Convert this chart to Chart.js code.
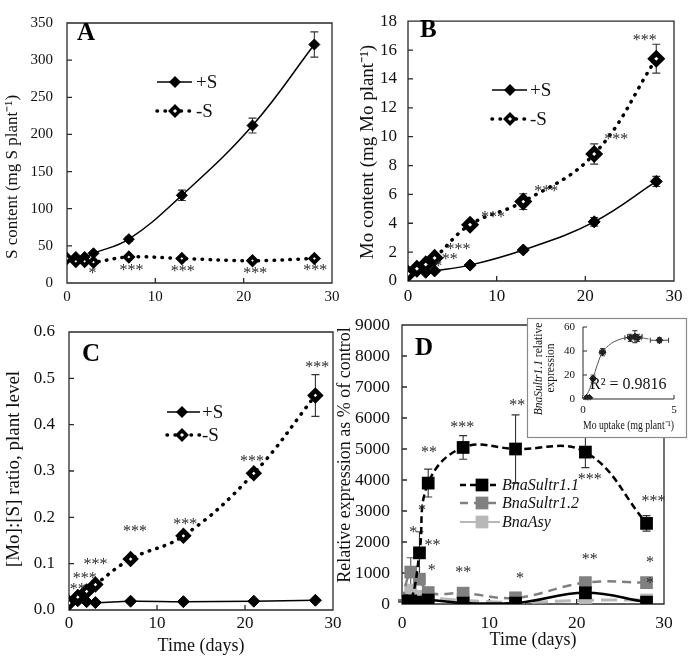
<!DOCTYPE html>
<html>
<head>
<meta charset="utf-8">
<script src="https://cdn.jsdelivr.net/npm/chart.js@4.4.0/dist/chart.umd.min.js"></script>
<style>
  body { margin: 0; background: #fff; }
  #wrap { position: relative; width: 690px; height: 662px; background: #fff; }
  #wrap canvas { position: absolute; left: 0; top: 0; }
</style>
</head>
<body>
<div id="wrap">
  <canvas id="cA" width="690" height="662"></canvas>
  <canvas id="cB" width="690" height="662"></canvas>
  <canvas id="cC" width="690" height="662"></canvas>
  <canvas id="cD" width="690" height="662"></canvas>
  <canvas id="cIn" width="690" height="662"></canvas>
</div>
<script>
const F = '"Liberation Serif", "Times New Roman", serif';

// sampling days
const days = [0, 1, 2, 3, 7, 13, 21, 28];

// A - S content (mg S plant-1)
const sPlus = [33, 35, 35, 40, 59, 118, 212, 321];
const sPlusErr = [0, 0, 0, 0, 3, 7, 10, 17];
const sMinus = [33, 29, 29, 28, 35, 33, 30, 33];
const sMinusErr = [0, 0, 0, 0, 2, 2, 2, 2];
const starsA = [[2.9, 17, '*'], [7.3, 21, '***'], [13.1, 20, '***'], [21.3, 17, '***'], [28.1, 21, '***']];

// B - Mo content (mg Mo plant-1)
const moPlus = [0.5, 0.75, 0.6, 0.7, 1.1, 2.15, 4.1, 6.9];
const moPlusErr = [0, 0, 0, 0, 0.1, 0.15, 0.3, 0.35];
const moMinus = [0.5, 0.85, 1.15, 1.6, 3.9, 5.5, 8.8, 15.4];
const moMinusErr = [0, 0.1, 0.1, 0.15, 0.2, 0.55, 0.7, 1.0];
const starsB = [[3.4, 1.2, '*'], [4.7, 1.7, '**'], [5.7, 2.4, '***'], [9.6, 4.6, '***'], [15.6, 6.4, '***'], [23.5, 10.0, '***'], [26.7, 16.9, '***']];

// C - [Mo]:[S] ratio
const ratioPlus = [0.015, 0.02, 0.018, 0.016, 0.019, 0.018, 0.019, 0.021];
const ratioMinus = [0.015, 0.028, 0.04, 0.055, 0.11, 0.16, 0.295, 0.463];
const ratioMinusErr = [0, 0.002, 0.003, 0.004, 0.005, 0.006, 0.007, 0.045];
const starsC = [[1.0, 0.05, '**'], [1.8, 0.075, '***'], [3.0, 0.104, '***'], [7.5, 0.177, '***'], [13.2, 0.19, '***'], [20.8, 0.328, '***'], [28.2, 0.53, '***']];

// D - relative expression as % of control
const sultr11 = [100, 100, 1650, 3900, 5050, 5000, 4900, 2600];
const sultr11Err = [30, 30, 680, 450, 380, 1100, 500, 250];
const sultr12 = [100, 1030, 800, 370, 350, 200, 690, 690];
const sultr12Err = [30, 460, 100, 60, 60, 40, 120, 150];
const asy = [100, 450, 250, 200, 120, 50, 120, 130];
const ctrl = [70, 30, 60, 130, 30, 30, 360, 60];
const starsD = [[1.3, 2390, '*'], [2.3, 3100, '*'], [3.5, 1970, '**'], [3.4, 1190, '*'], [3.1, 4970, '**'],
  [6.9, 5800, '***'], [7.0, 1100, '**'], [13.2, 6500, '**'], [13.5, 935, '*'], [21.5, 4100, '***'],
  [21.5, 1520, '**'], [28.8, 3420, '***'], [28.4, 1450, '*'], [28.4, 770, '*']];

// inset - BnaSultr1.1 vs Mo uptake
const upX = [0, 0.2, 0.35, 0.55, 1.07, 2.6, 2.85, 3.0, 4.2];
const upY = [0, 1, 1, 17, 39, 51, 52, 51, 49];
const upXErr = [0, 0.05, 0.05, 0.1, 0.15, 0.3, 0.4, 0.2, 0.5];
const upYErr = [0, 1, 1, 3, 3, 3, 5, 3, 2];
const fitX = [0, 0.3, 0.55, 0.8, 1.07, 1.4, 1.75, 2.2, 2.6, 3.0, 3.6];
const fitY = [0, 6, 17, 29, 39, 44.5, 48, 50.5, 51.5, 51.5, 50];

const pts = (xs, ys) => xs.map((x, i) => ({ x: x, y: ys[i] }));

// marker drawing used by the legends
function marker(ctx, kind, x, y, r, fill, stroke, bw) {
  ctx.beginPath();
  if (kind === 'square') {
    const s = r * Math.SQRT1_2;
    ctx.rect(x - s, y - s, 2 * s, 2 * s);
  } else {
    ctx.moveTo(x, y - r); ctx.lineTo(x + r, y); ctx.lineTo(x, y + r); ctx.lineTo(x - r, y); ctx.closePath();
  }
  ctx.fillStyle = fill; ctx.fill();
  if (bw) { ctx.lineWidth = bw; ctx.strokeStyle = stroke; ctx.setLineDash([]); ctx.stroke(); }
}

// plot frame with inside tick marks
const frame = {
  id: 'frame',
  beforeDatasetsDraw(chart, args, o) {
    const { ctx, chartArea: a } = chart;
    const xs = chart.scales.x, ys = chart.scales.y;
    ctx.save();
    ctx.strokeStyle = o.color || '#2a2a2a';
    ctx.lineWidth = o.width || 1.3;
    ctx.beginPath();
    if (o.box === false) {
      ctx.moveTo(a.left, a.top); ctx.lineTo(a.left, a.bottom); ctx.lineTo(a.right, a.bottom);
    } else {
      ctx.rect(a.left, a.top, a.right - a.left, a.bottom - a.top);
    }
    const t = o.tick || 5;
    ys.ticks.forEach(k => {
      const y = ys.getPixelForValue(k.value);
      ctx.moveTo(a.left, y); ctx.lineTo(a.left + t, y);
    });
    xs.ticks.forEach(k => {
      const x = xs.getPixelForValue(k.value);
      ctx.moveTo(x, a.bottom); ctx.lineTo(x, a.bottom - t);
    });
    ctx.stroke();
    ctx.restore();
  }
};

// error bars (vertical, and horizontal when xErrors given)
const errorBars = {
  id: 'errorBars',
  beforeDatasetsDraw(chart) {
    const { ctx } = chart;
    const xs = chart.scales.x, ys = chart.scales.y;
    chart.data.datasets.forEach(ds => {
      if (!ds.errors && !ds.xErrors) return;
      ctx.save();
      ctx.strokeStyle = ds.errColor || '#333';
      ctx.lineWidth = 1.1;
      const cap = ds.errCap || 4;
      ds.data.forEach((p, j) => {
        const x = xs.getPixelForValue(p.x), y = ys.getPixelForValue(p.y);
        ctx.beginPath();
        const e = ds.errors ? ds.errors[j] : 0;
        if (e) {
          const y1 = ys.getPixelForValue(p.y + e), y2 = ys.getPixelForValue(p.y - e);
          ctx.moveTo(x, y1); ctx.lineTo(x, y2);
          ctx.moveTo(x - cap, y1); ctx.lineTo(x + cap, y1);
          ctx.moveTo(x - cap, y2); ctx.lineTo(x + cap, y2);
        }
        const ex = ds.xErrors ? ds.xErrors[j] : 0;
        if (ex) {
          const x1 = xs.getPixelForValue(p.x - ex), x2 = xs.getPixelForValue(p.x + ex);
          ctx.moveTo(x1, y); ctx.lineTo(x2, y);
          ctx.moveTo(x1, y - cap); ctx.lineTo(x1, y + cap);
          ctx.moveTo(x2, y - cap); ctx.lineTo(x2, y + cap);
        }
        ctx.stroke();
      });
      ctx.restore();
    });
  }
};

// panel letter, significance stars, in-plot legend, extra texts
const notes = {
  id: 'notes',
  beforeDraw(chart, args, o) {
    if (!o.panel) return;
    const ctx = chart.ctx, p = o.panel;
    ctx.save();
    ctx.fillStyle = '#fff';
    ctx.fillRect(p[0], p[1], p[2], p[3]);
    ctx.strokeStyle = '#8a8a8a'; ctx.lineWidth = 1.2;
    ctx.strokeRect(p[0] + 0.5, p[1] + 0.5, p[2], p[3]);
    ctx.restore();
  },
  afterDatasetsDraw(chart, args, o) {
    const ctx = chart.ctx;
    const xs = chart.scales.x, ys = chart.scales.y;
    ctx.save();
    if (o.stars) {
      const fs = o.starSize || 16;
      ctx.font = fs + 'px ' + F;
      ctx.fillStyle = '#2b2b2b';
      ctx.textAlign = 'center';
      ctx.textBaseline = 'alphabetic';
      o.stars.forEach(s => {
        ctx.fillText(s[2], xs.getPixelForValue(s[0]), ys.getPixelForValue(s[1]) + fs * 0.47);
      });
    }
    if (o.letter) {
      ctx.font = 'bold ' + o.letter.size + 'px ' + F;
      ctx.fillStyle = '#000';
      ctx.textAlign = 'left';
      ctx.textBaseline = 'middle';
      ctx.fillText(o.letter.t, o.letter.x, o.letter.y);
    }
    (o.legend || []).forEach(it => {
      ctx.save();
      ctx.strokeStyle = it.color; ctx.lineWidth = it.width;
      ctx.setLineDash(it.dash || []); ctx.lineCap = it.cap || 'butt';
      ctx.beginPath(); ctx.moveTo(it.x0, it.y); ctx.lineTo(it.x1, it.y); ctx.stroke();
      marker(ctx, it.kind, it.mx, it.y, it.r, it.fill, it.stroke, it.bw);
      ctx.font = (it.italic ? 'italic ' : '') + it.size + 'px ' + F;
      ctx.fillStyle = it.textColor || '#111';
      ctx.textAlign = 'left'; ctx.textBaseline = 'middle';
      ctx.fillText(it.label, it.tx, it.y + 1);
      ctx.restore();
    });
    (o.texts || []).forEach(t => {
      ctx.save();
      ctx.translate(t.x, t.y);
      if (t.rot) ctx.rotate(t.rot);
      ctx.textBaseline = 'middle';
      let w = 0;
      t.parts.forEach(pp => { ctx.font = (pp.i ? 'italic ' : '') + t.size + 'px ' + F; w += ctx.measureText(pp.s).width; });
      let x = t.align === 'left' ? 0 : -w / 2;
      ctx.fillStyle = '#111';
      t.parts.forEach(pp => {
        ctx.font = (pp.i ? 'italic ' : '') + t.size + 'px ' + F;
        ctx.textAlign = 'left';
        ctx.fillText(pp.s, x, 0);
        x += ctx.measureText(pp.s).width;
      });
      ctx.restore();
    });
    ctx.restore();
  }
};

function axes(o) {
  const yTicks = { stepSize: o.step, padding: o.ypad, color: '#111', font: { family: F, size: o.tick },
    callback: o.fmt || (v => String(v)) };
  return {
    x: {
      type: 'linear', min: o.xmin || 0, max: o.xmax || 30,
      afterFit: s => { s.height = o.xh; },
      grid: { display: false, drawTicks: false }, border: { display: false },
      ticks: { stepSize: o.xstep || 10, padding: o.xpad, color: '#111', maxRotation: 0, font: { family: F, size: o.tick },
        callback: v => String(v) },
      title: { display: !!o.xtitle, text: o.xtitle || '', color: '#111', padding: 0, font: { family: F, size: o.xts || 17 } }
    },
    y: {
      type: 'linear', min: 0, max: o.ymax,
      afterFit: s => { s.width = o.yw; },
      grid: { display: false, drawTicks: false }, border: { display: false },
      ticks: yTicks
    }
  };
}

// rotated y-axis title
const yTitle = (text, x, y, size) => ({ x: x, y: y, rot: -Math.PI / 2, size: size, parts: [{ s: text }] });

function plusSet(label, ys, errs, r) {
  return {
    label: label, data: pts(days, ys), errors: errs,
    borderColor: '#000', borderWidth: 1.5, tension: 0.4,
    pointStyle: 'rectRot', pointRadius: r, pointBackgroundColor: '#000', pointBorderColor: '#000', pointBorderWidth: 1
  };
}
function minusSet(label, ys, errs, r, bw) {
  return {
    label: label, data: pts(days, ys), errors: errs,
    borderColor: '#000', borderWidth: 3.5, borderDash: [0.5, 7.5], borderCapStyle: 'round', tension: 0.4,
    pointStyle: 'rectRot', pointRadius: r, pointBackgroundColor: '#fff', pointBorderColor: '#000', pointBorderWidth: bw
  };
}
function sLegend(x0, x1, mx, tx, y1, y2, size) {
  return [
    { label: '+S', x0: x0, x1: x1, mx: mx, tx: tx, y: y1, color: '#000', width: 1.5, kind: 'diamond', r: 6, fill: '#000', size: size },
    { label: '-S', x0: x0, x1: x1, mx: mx, tx: tx, y: y2, color: '#000', width: 3.5, dash: [0.5, 7.5], cap: 'round', kind: 'diamond', r: 4.5, fill: '#fff', stroke: '#000', bw: 3.5, size: size }
  ];
}

function make(id, type, datasets, scales, pad, pluginOpts) {
  return new Chart(document.getElementById(id), {
    type: type,
    data: { datasets: datasets },
    options: {
      responsive: false, animation: false,
      layout: { padding: pad },
      scales: scales,
      plugins: Object.assign({ legend: { display: false }, tooltip: { enabled: false } }, pluginOpts)
    },
    plugins: [frame, errorBars, notes]
  });
}

// Panel A
make('cA', 'line',
  [minusSet('-S', sMinus, sMinusErr, 4, 3.8), plusSet('+S', sPlus, sPlusErr, 5.5)],
  axes({ ymax: 350, step: 50, tick: 15, ypad: 14, yw: 63, xh: 30, xpad: 5 }),
  { left: 4, top: 15, right: 358, bottom: 349 },
  { notes: { stars: starsA, letter: { t: 'A', x: 77, y: 34, size: 25 }, legend: sLegend(157, 192, 175, 196, 82, 111, 19),
    texts: [yTitle('S content (mg S plant\u207B\u00B9)', 13, 177, 17)] } });

// Panel B
make('cB', 'line',
  [minusSet('-S', moMinus, moMinusErr, 5.5, 5), plusSet('+S', moPlus, moPlusErr, 6)],
  axes({ ymax: 18, step: 2, tick: 17, ypad: 11, yw: 51, xh: 30, xpad: 5 }),
  { left: 357, top: 10, right: 16, bottom: 351 },
  { notes: { stars: starsB, letter: { t: 'B', x: 420, y: 31, size: 25 }, legend: sLegend(492, 527, 510, 530, 90, 119, 19),
    texts: [yTitle('Mo content (mg Mo plant\u207B\u00B9)', 368, 152, 19)] } });

// Panel C
make('cC', 'line',
  [minusSet('-S', ratioMinus, ratioMinusErr, 5, 4.6), plusSet('+S', ratioPlus, null, 6)],
  axes({ ymax: 0.6, step: 0.1, fmt: v => v.toFixed(1), tick: 17, ypad: 14, yw: 66,
    xh: 47, xpad: 3, xtitle: 'Time (days)', xts: 18 }),
  { left: 3, top: 332, right: 357, bottom: 5 },
  { notes: { stars: starsC, letter: { t: 'C', x: 82, y: 355, size: 25 }, legend: sLegend(167, 200, 182, 202, 412, 435, 19),
    texts: [yTitle('[Mo]:[S] ratio, plant level', 14, 469, 19)] } });

// Panel D
const sq = 9;
make('cD', 'line',
  [
    { label: 'ctrl', data: pts(days, ctrl), borderColor: '#000', borderWidth: 2.5, tension: 0.4,
      pointStyle: 'rect', pointRadius: sq, pointBackgroundColor: '#000', pointBorderWidth: 0 },
    { label: 'BnaSultr1.1', data: pts(days, sultr11), errors: sultr11Err, borderColor: '#000', borderWidth: 2.5, borderDash: [7, 4], tension: 0.4,
      pointStyle: 'rect', pointRadius: sq, pointBackgroundColor: '#000', pointBorderWidth: 0 },
    { label: 'BnaSultr1.2', data: pts(days, sultr12), errors: sultr12Err, errColor: '#555', borderColor: '#808080', borderWidth: 2.5, borderDash: [9, 6], tension: 0.4,
      pointStyle: 'rect', pointRadius: sq, pointBackgroundColor: '#808080', pointBorderWidth: 0 },
    { label: 'BnaAsy', data: pts(days, asy), borderColor: '#b8b8b8', borderWidth: 3, borderDash: [16, 7], tension: 0.4,
      pointStyle: 'rect', pointRadius: sq, pointBackgroundColor: '#b8b8b8', pointBorderWidth: 0 }
  ],
  axes({ ymax: 9000, step: 1000, tick: 17.5, ypad: 12, yw: 68,
    xh: 47, xpad: 9, xtitle: 'Time (days)', xts: 18 }),
  { left: 334, top: 325, right: 26, bottom: 11 },
  { notes: {
      stars: starsD, letter: { t: 'D', x: 415, y: 349, size: 25 },
      texts: [yTitle('Relative expression as % of control', 345, 455, 18)],
      legend: [
        { label: 'BnaSultr1.1', italic: true, x0: 460, x1: 500, mx: 482, tx: 502, y: 485, color: '#000', width: 2.5, dash: [6, 4], kind: 'square', r: 9, fill: '#000', size: 16 },
        { label: 'BnaSultr1.2', italic: true, x0: 460, x1: 500, mx: 482, tx: 502, y: 503, color: '#808080', width: 2.5, dash: [8, 6], kind: 'square', r: 9, fill: '#808080', size: 16 },
        { label: 'BnaAsy', italic: true, x0: 460, x1: 500, mx: 482, tx: 502, y: 522, color: '#b8b8b8', width: 2, kind: 'square', r: 9, fill: '#b8b8b8', size: 16 }
      ] } });

// Inset
make('cIn', 'scatter',
  [
    { label: 'data', data: pts(upX, upY), errors: upYErr, xErrors: upXErr, errCap: 2.5, errColor: '#444',
      pointStyle: upX.map((v, i) => i === 0 ? 'circle' : 'rectRot'), pointRadius: 3.5,
      pointBackgroundColor: upX.map((v, i) => i === 0 ? '#fff' : '#222'), pointBorderColor: upX.map((v, i) => i === 0 ? '#888' : '#222'), pointBorderWidth: 1 },
    { label: 'fit', data: pts(fitX, fitY), showLine: true, borderColor: '#555', borderWidth: 1, tension: 0.4, pointRadius: 0 }
  ],
  axes({ xmax: 5, xstep: 5, ymax: 60, step: 20, tick: 11, ypad: 8, yw: 20, xh: 34, xpad: 5, xtitle: 'Mo uptake (mg plant\u207B\u00B9)', xts: 12 }),
  { left: 563, top: 327, right: 16, bottom: 229 },
  { frame: { box: false, width: 1, tick: 4 },
    notes: {
      panel: [527, 318, 159, 119],
      texts: [
        { x: 539, y: 369, rot: -Math.PI / 2, size: 11.5, parts: [{ s: 'BnaSultr1.1', i: true }, { s: ' relative' }] },
        { x: 551, y: 368, rot: -Math.PI / 2, size: 11.5, parts: [{ s: 'expression' }] },
        { x: 590, y: 385, align: 'left', size: 16, parts: [{ s: 'R\u00B2 = 0.9816' }] }
      ] } });
</script>
</body>
</html>
